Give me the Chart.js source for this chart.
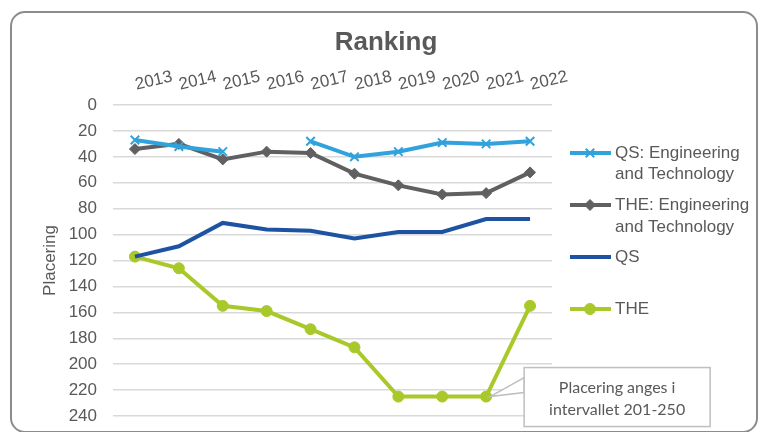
<!DOCTYPE html>
<html>
<head>
<meta charset="utf-8">
<script src="https://cdn.jsdelivr.net/npm/chart.js@4.4.1/dist/chart.umd.min.js"></script>
<style>
  html, body { margin: 0; padding: 0; background: #fff; }
  #wrap { position: relative; width: 758px; height: 432px; overflow: hidden; }
  #frame {
    position: absolute; left: 10px; top: 11px; width: 744px; height: 418px;
    border: 2px solid #8c8c8c; border-radius: 15px; box-sizing: content-box;
  }
  canvas { position: absolute; left: 0; top: 0; }
</style>
</head>
<body>
<div id="wrap">
  <div id="frame"></div>
  <canvas id="ranking-chart" width="758" height="432"></canvas>
</div>
<script>
// chart data
const years = ['2013', '2014', '2015', '2016', '2017', '2018', '2019', '2020', '2021', '2022'];
const qsEngTech = [27, 32, 36, null, 28, 40, 36, 29, 30, 28];
const theEngTech = [34, 30, 42, 36, 37, 53, 62, 69, 68, 52];
const qsTotal = [117, 109, 91, 96, 97, 103, 98, 98, 88, 88];
const theTotal = [117, 126, 155, 159, 173, 187, 225, 225, 225, 155];
const yTicks = [0, 20, 40, 60, 80, 100, 120, 140, 160, 180, 200, 220, 240];

const legendLabels = [
  ['QS: Engineering', 'and Technology'],
  ['THE: Engineering', 'and Technology'],
  ['QS'],
  ['THE']
];
const noteLines = ['Placering anges i', 'intervallet 201-250'];

const textGrey = '#595959';
Chart.defaults.font.family = "'Liberation Sans', Arial, sans-serif";
Chart.defaults.color = textGrey;

// title, legend and the callout box are drawn by hand
const decor = {
  id: 'decor',
  afterDraw(chart) {
    const c = chart.ctx;
    c.save();

    // title
    c.fillStyle = textGrey;
    c.font = "bold 26px 'Liberation Sans', Arial, sans-serif";
    c.textAlign = 'center';
    c.textBaseline = 'middle';
    c.fillText('Ranking', 386, 43);

    // legend
    const rows = [[153, 174], [205, 227], [257], [309]];
    c.font = "17px 'Liberation Sans', Arial, sans-serif";
    c.textAlign = 'left';
    chart.data.datasets.forEach((ds, i) => {
      const y = rows[i][0];
      c.strokeStyle = ds.borderColor;
      c.fillStyle = ds.backgroundColor;
      c.lineWidth = 4;
      c.beginPath();
      c.moveTo(570, y);
      c.lineTo(611, y);
      c.stroke();
      if (ds.pointRadius > 0) {
        c.lineWidth = ds.pointBorderWidth;
        Chart.helpers.drawPoint(c, {
          pointStyle: ds.pointStyle,
          radius: ds.pointRadius,
          borderWidth: ds.pointBorderWidth
        }, 590, y);
      }
      c.fillStyle = textGrey;
      legendLabels[i].forEach((t, j) => c.fillText(t, 615, rows[i][j]));
    });

    // callout pointing at THE 2021
    const pt = chart.getDatasetMeta(3).data[8];
    const bx = pt.x + 38, by = pt.y - 29, bw = 186, bh = 59;
    c.fillStyle = '#fff';
    c.strokeStyle = '#bfbfbf';
    c.lineWidth = 1.5;
    c.beginPath();
    c.moveTo(bx, by + 10);
    c.lineTo(pt.x + 4, pt.y);
    c.lineTo(bx, by + 25);
    c.closePath();
    c.fill();
    c.stroke();
    c.fillRect(bx, by, bw, bh);
    c.strokeRect(bx, by, bw, bh);
    c.fillStyle = textGrey;
    c.font = "16px Lato, 'Open Sans', sans-serif";
    c.textAlign = 'center';
    c.fillText(noteLines[0], bx + bw / 2, by + 20);
    c.fillText(noteLines[1], bx + bw / 2, by + 42);

    c.restore();
  }
};

const ctx = document.getElementById('ranking-chart').getContext('2d');
const rankingChart = new Chart(ctx, {
  type: 'line',
  data: {
    labels: years,
    datasets: [{
      label: 'QS: Engineering and Technology',
      data: qsEngTech,
      borderColor: '#31a2db',
      backgroundColor: '#31a2db',
      borderWidth: 4,
      pointStyle: 'crossRot',
      pointRadius: 6,
      pointBorderWidth: 2,
      pointBorderColor: '#31a2db'
    }, {
      label: 'THE: Engineering and Technology',
      data: theEngTech,
      borderColor: '#606062',
      backgroundColor: '#606062',
      borderWidth: 4,
      pointStyle: 'rectRot',
      pointRadius: 5.5,
      pointBorderWidth: 1
    }, {
      label: 'QS',
      data: qsTotal,
      borderColor: '#1e52a2',
      backgroundColor: '#1e52a2',
      borderWidth: 4,
      pointRadius: 0
    }, {
      label: 'THE',
      data: theTotal,
      borderColor: '#a9c82a',
      backgroundColor: '#a9c82a',
      borderWidth: 4,
      pointStyle: 'circle',
      pointRadius: 5.5,
      pointBorderWidth: 1
    }]
  },
  options: {
    responsive: false,
    animation: false,
    layout: { padding: { left: 36, right: 206, top: 12, bottom: 16 } },
    plugins: {
      legend: { display: false },
      tooltip: { enabled: false }
    },
    scales: {
      x: {
        position: 'top',
        offset: true,
        grid: { display: false },
        border: { display: false },
        ticks: { minRotation: 13, maxRotation: 13, padding: 2, labelOffset: 5, font: { size: 17 }, color: textGrey },
        afterFit: s => { s.height = 93; }
      },
      y: {
        reverse: true,
        min: 0,
        max: 240,
        afterBuildTicks: s => { s.ticks = yTicks.map(v => ({ value: v })); },
        grid: { color: '#d9d9d9', lineWidth: 1.5, drawTicks: false },
        border: { display: false },
        ticks: { padding: 16, font: { size: 17 }, color: textGrey },
        title: { display: true, text: 'Placering', font: { size: 17 }, color: textGrey },
        afterFit: s => {
          s.width = 77;
          s.paddingTop = 0;
          s.paddingBottom = 0;
        }
      }
    }
  },
  plugins: [decor]
});
</script>
</body>
</html>
